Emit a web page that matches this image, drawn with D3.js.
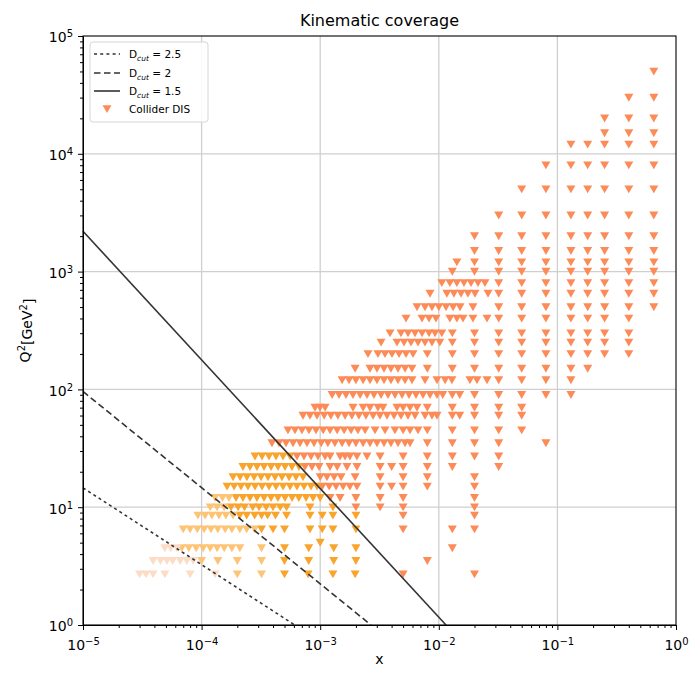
<!DOCTYPE html>
<html><head><meta charset="utf-8">
<script src="https://cdn.jsdelivr.net/npm/d3@7"></script>
<style>
body{margin:0;background:#fff}
svg{display:block}
text{font-family:"DejaVu Sans",sans-serif;fill:#000}
</style>
</head><body>
<svg id="chart" width="690" height="676"></svg>
<script>
// ---- measured bins: [Q², [x values]] grouped by marker colour ----
const paleRows = [
  [2.7, [3.0e-5, 3.4e-5, 3.9e-5, 4.9e-5, 8.0e-5, 1.3e-4]],
  [3.5, [3.9e-5, 4.5e-5, 5.1e-5, 5.7e-5, 6.6e-5, 7.5e-5, 8.5e-5]],
  [4.5, [4.9e-5, 5.5e-5, 6.2e-5]]
];
const lightRows = [
  [2.7, [2.0e-4, 3.2e-4]],
  [3.5, [1.0e-4, 1.37e-4, 2.0e-4, 3.2e-4]],
  [4.5, [6.8e-5, 7.8e-5, 9.0e-5, 1.03e-4, 1.18e-4, 1.35e-4, 1.55e-4, 1.8e-4, 2.1e-4, 3.2e-4]],
  [6.5, [7.0e-5, 8.0e-5, 9.2e-5, 1.05e-4, 1.2e-4, 1.37e-4, 1.58e-4, 1.8e-4, 2.1e-4, 2.4e-4, 2.8e-4]],
  [8.5, [9.3e-5, 1.07e-4, 1.22e-4, 1.4e-4, 1.6e-4, 1.84e-4]],
  [10, [1.18e-4, 1.35e-4, 1.55e-4]],
  [12, [1.3e-4, 1.5e-4, 1.7e-4]]
];
const orangeRows = [
  [2.7, [5.0e-4, 7.9e-4, 1.28e-3, 1.97e-3]],
  [3.5, [5.0e-4, 8.0e-4, 1.3e-3, 2.0e-3]],
  [4.5, [5.0e-4, 8.0e-4, 1.3e-3, 2.0e-3]],
  [5.0, [1.0e-3]],
  [6.5, [3.2e-4, 4.0e-4, 5.0e-4, 8.2e-4, 1.04e-3, 1.28e-3, 2.0e-3]],
  [8.5, [2.1e-4, 2.4e-4, 2.8e-4, 3.2e-4, 3.6e-4, 4.2e-4, 5.2e-4, 8.2e-4, 1.04e-3, 1.28e-3, 2.0e-3]],
  [10, [1.77e-4, 2.03e-4, 2.3e-4, 2.7e-4, 3.05e-4, 3.5e-4, 4.0e-4, 4.6e-4, 5.2e-4, 8.2e-4, 1.28e-3]],
  [12, [1.95e-4, 2.23e-4, 2.56e-4, 2.93e-4, 3.36e-4, 3.85e-4, 4.4e-4, 5.05e-4, 5.8e-4, 6.6e-4, 7.6e-4, 8.7e-4, 1.0e-3]],
  [15, [1.64e-4, 1.88e-4, 2.15e-4, 2.46e-4, 2.82e-4, 3.23e-4, 3.7e-4, 4.24e-4, 4.86e-4, 5.57e-4, 6.37e-4, 7.3e-4, 8.37e-4, 9.4e-4]],
  [18, [1.84e-4, 2.11e-4, 2.41e-4, 2.77e-4, 3.17e-4, 3.63e-4, 4.16e-4, 4.76e-4, 5.46e-4, 6.25e-4, 7.16e-4]],
  [22, [2.23e-4, 2.56e-4, 2.93e-4, 3.36e-4, 3.85e-4, 4.41e-4, 5.05e-4, 5.78e-4, 6.62e-4]],
  [27, [2.82e-4, 3.23e-4, 3.7e-4, 4.24e-4, 4.86e-4, 5.57e-4]]
];
const coralRows = [
  [2.7, [5.0e-3, 2.0e-2]],
  [3.5, [8.0e-3]],
  [4.5, [1.3e-2]],
  [6.5, [5.0e-3, 1.3e-2, 2.0e-2]],
  [8.5, [5.0e-3, 2.0e-2]],
  [10, [2.0e-3, 3.2e-3, 5.0e-3, 2.0e-2]],
  [12, [1.21e-3, 1.47e-3, 2.0e-3, 3.2e-3, 5.0e-3, 2.0e-2]],
  [15, [1.04e-3, 1.19e-3, 1.36e-3, 1.56e-3, 1.78e-3, 2.04e-3, 3.2e-3, 4.0e-3, 5.0e-3, 8.0e-3, 2.0e-2]],
  [18, [1.0e-3, 1.14e-3, 1.31e-3, 1.5e-3, 1.97e-3, 3.2e-3, 5.0e-3, 8.0e-3, 2.0e-2]],
  [22, [7.44e-4, 8.53e-4, 9.77e-4, 1.21e-3, 1.39e-3, 1.68e-3, 2.04e-3, 3.2e-3, 4.0e-3, 5.0e-3, 8.0e-3, 1.3e-2, 3.2e-2]],
  [27, [6.37e-4, 7.3e-4, 8.37e-4, 9.58e-4, 1.1e-3, 1.21e-3, 1.47e-3, 1.62e-3, 1.78e-3, 2.04e-3, 2.48e-3, 3.2e-3, 5.0e-3, 8.0e-3, 1.3e-2, 2.0e-2, 3.2e-2]],
  [35, [3.92e-4, 4.49e-4, 5.15e-4, 5.9e-4, 6.76e-4, 7.74e-4, 8.87e-4, 1.02e-3, 1.16e-3, 1.33e-3, 1.53e-3, 1.75e-3, 2.0e-3, 2.3e-3, 2.63e-3, 3.01e-3, 3.45e-3, 3.95e-3, 4.53e-3, 5.19e-3, 5.72e-3, 8.0e-3, 1.3e-2, 2.0e-2, 3.2e-2, 8.0e-2]],
  [45, [5.35e-4, 6.13e-4, 7.02e-4, 8.04e-4, 9.22e-4, 1.06e-3, 1.21e-3, 1.39e-3, 1.59e-3, 1.82e-3, 2.08e-3, 2.39e-3, 2.9e-3, 3.52e-3, 4.27e-3, 5.0e-3, 5.72e-3, 6.68e-3, 8.0e-3, 1.3e-2, 2.0e-2, 3.2e-2, 5.0e-2]],
  [60, [7.16e-4, 8.2e-4, 9.4e-4, 1.08e-3, 1.23e-3, 1.41e-3, 1.62e-3, 1.85e-3, 2.12e-3, 2.43e-3, 2.79e-3, 3.19e-3, 3.66e-3, 4.19e-3, 4.8e-3, 5.5e-3, 6.3e-3, 7.65e-3, 8.76e-3, 9.66e-3, 1.3e-2, 1.5e-2, 2.0e-2, 3.2e-2, 5.0e-2]],
  [70, [9.04e-4, 9.96e-4, 1.1e-3, 1.89e-3, 2.3e-3, 2.63e-3, 3.07e-3, 3.38e-3, 4.44e-3, 5.0e-3, 5.72e-3, 6.55e-3, 8.0e-3, 1.3e-2, 2.0e-2, 3.2e-2, 5.0e-2]],
  [90, [1.26e-3, 1.44e-3, 1.65e-3, 1.89e-3, 2.17e-3, 2.48e-3, 2.84e-3, 3.26e-3, 3.73e-3, 4.27e-3, 4.9e-3, 5.61e-3, 6.42e-3, 7.36e-3, 8.43e-3, 9.66e-3, 1.08e-2, 1.3e-2, 1.5e-2, 2.0e-2, 3.2e-2, 5.0e-2, 8.0e-2, 0.13]],
  [120, [1.53e-3, 1.75e-3, 2.0e-3, 2.3e-3, 2.63e-3, 3.01e-3, 3.45e-3, 3.95e-3, 4.53e-3, 5.19e-3, 5.94e-3, 7.65e-3, 9.66e-3, 1.13e-2, 1.29e-2, 1.83e-2, 2.1e-2, 2.55e-2, 3.2e-2, 5.0e-2, 8.0e-2, 0.13]],
  [150, [1.97e-3, 2.63e-3, 3.01e-3, 3.45e-3, 3.95e-3, 4.53e-3, 5.19e-3, 5.94e-3, 8.0e-3, 1.3e-2, 2.0e-2, 3.2e-2, 5.0e-2, 8.0e-2, 0.13, 0.18]],
  [200, [2.53e-3, 3.07e-3, 3.52e-3, 4.03e-3, 4.62e-3, 5.29e-3, 6.06e-3, 8.0e-3, 1.3e-2, 2.0e-2, 3.2e-2, 5.0e-2, 8.0e-2, 0.13, 0.18, 0.25, 0.4]],
  [250, [3.26e-3, 4.44e-3, 5.09e-3, 5.83e-3, 6.68e-3, 7.65e-3, 8.76e-3, 1.02e-2, 1.3e-2, 2.0e-2, 3.2e-2, 5.0e-2, 8.0e-2, 0.13, 0.18, 0.25, 0.4]],
  [300, [3.88e-3, 4.8e-3, 5.5e-3, 6.3e-3, 7.22e-3, 8.27e-3, 9.29e-3, 1.06e-2, 1.3e-2, 2.0e-2, 3.2e-2, 5.0e-2, 8.0e-2, 0.13, 0.18, 0.25, 0.4]],
  [400, [5.29e-3, 7.22e-3, 8.27e-3, 9.47e-3, 1.24e-2, 1.42e-2, 1.6e-2, 1.94e-2, 2.55e-2, 3.2e-2, 5.0e-2, 8.0e-2, 0.13, 0.18, 0.25, 0.4]],
  [500, [6.55e-3, 7.65e-3, 8.76e-3, 1.0e-2, 1.15e-2, 1.32e-2, 1.51e-2, 1.94e-2, 3.2e-2, 5.0e-2, 8.0e-2, 0.13, 0.18, 0.25, 0.4, 0.65]],
  [650, [8.43e-3, 1.17e-2, 1.34e-2, 1.54e-2, 1.76e-2, 2.02e-2, 2.6e-2, 3.2e-2, 5.0e-2, 8.0e-2, 0.13, 0.18, 0.25, 0.4, 0.65]],
  [800, [1.06e-2, 1.24e-2, 1.42e-2, 1.63e-2, 1.87e-2, 2.14e-2, 2.45e-2, 3.2e-2, 5.0e-2, 8.0e-2, 0.13, 0.18, 0.25, 0.4, 0.65]],
  [1000, [1.3e-2, 2.0e-2, 3.2e-2, 5.0e-2, 8.0e-2, 0.13, 0.18, 0.25, 0.4, 0.65]],
  [1200, [1.42e-2, 2.0e-2, 3.2e-2, 5.0e-2, 8.0e-2, 0.13, 0.18, 0.25, 0.4, 0.65]],
  [1500, [2.0e-2, 3.2e-2, 5.0e-2, 8.0e-2, 0.13, 0.18, 0.25, 0.4, 0.65]],
  [2000, [2.0e-2, 3.2e-2, 5.0e-2, 8.0e-2, 0.13, 0.18, 0.25, 0.4, 0.65]],
  [3000, [3.2e-2, 5.0e-2, 8.0e-2, 0.13, 0.18, 0.25, 0.4, 0.65]],
  [5000, [5.0e-2, 8.0e-2, 0.13, 0.18, 0.25, 0.4, 0.65]],
  [8000, [8.0e-2, 0.13, 0.18, 0.25, 0.4, 0.65]],
  [12000, [0.13, 0.18, 0.25, 0.4, 0.65]],
  [15000, [0.25, 0.4, 0.65]],
  [20000, [0.25, 0.4, 0.65]],
  [30000, [0.4, 0.65]],
  [50000, [0.65]]
];

// ---- D_cut boundaries: straight lines in log-log, from x = 1e-5 down to Q² = 1 ----
const cutLabels = ["2.5", "2", "1.5"];
const cutStartX = [1e-5, 1e-5, 1e-5];
const cutStartQ2 = [14.6, 96, 2200];
const cutEndX = [6.1e-4, 2.68e-3, 1.15e-2];
const cutEndQ2 = [1, 1, 1];

// ---- axis ticks ----
const xMajor = [1e-5, 1e-4, 1e-3, 1e-2, 1e-1, 1];
const yMajor = [1, 10, 100, 1000, 1e4, 1e5];
const xExp = ["−5", "−4", "−3", "−2", "−1", "0"];
const yExp = ["0", "1", "2", "3", "4", "5"];

// ---- styling ----
const groupColor = {pale: "#fddcc6", light: "#fdc475", orange: "#f9a42c", coral: "#fc8b57"};
const cutDash = ["3,3.2", "6.5,3.5", null];

const svg = d3.select("#chart");
const W = 690, H = 676;
const mL = 83, mR = 676, mT = 36, mB = 625;

const x = d3.scaleLog().domain([1e-5, 1]).range([mL, mR]);
const y = d3.scaleLog().domain([1, 1e5]).range([mB, mT]);

svg.append("rect").attr("width", W).attr("height", H).attr("fill", "#fff");

// minor tick values (2..9 per decade)
const minorOf = (majors) => {
  const out = [];
  for (let i = 0; i < majors.length - 1; i++)
    for (let k = 2; k <= 9; k++) out.push(majors[i] * k);
  return out;
};

// grid
const grid = svg.append("g").attr("stroke", "#cfcfcf").attr("stroke-width", 1.3);
grid.selectAll(".gx").data(xMajor.slice(1, -1)).join("line")
  .attr("x1", d => x(d)).attr("x2", d => x(d)).attr("y1", mT).attr("y2", mB);
grid.selectAll(".gy").data(yMajor.slice(1, -1)).join("line")
  .attr("y1", d => y(d)).attr("y2", d => y(d)).attr("x1", mL).attr("x2", mR);

// data points
const points = [];
const addRows = (rows, g) => rows.forEach(([q2, xs]) => xs.forEach(v => points.push({x: v, q2, g})));
addRows(coralRows, "coral");
addRows(orangeRows, "orange");
addRows(lightRows, "light");
addRows(paleRows, "pale");

const tri = "M-4.5,-3.8L4.5,-3.8L0,4.1Z";
const plot = svg.append("g");
plot.selectAll("path.pt").data(points).join("path")
  .attr("class", "pt")
  .attr("d", tri)
  .attr("transform", d => `translate(${x(d.x)},${y(d.q2)})`)
  .attr("fill", d => groupColor[d.g]);

// D_cut lines
const lineGen = d3.line().x(d => x(d[0])).y(d => y(d[1]));
cutLabels.forEach((lab, i) => {
  svg.append("path")
    .attr("d", lineGen([[cutStartX[i], cutStartQ2[i]], [cutEndX[i], cutEndQ2[i]]]))
    .attr("fill", "none").attr("stroke", "#333").attr("stroke-width", 1.6)
    .attr("stroke-dasharray", cutDash[i]);
});

// axes
const sup = (sel, exps) => {
  sel.selectAll(".tick text").each(function (d, i) {
    const t = d3.select(this);
    t.text(null);
    t.append("tspan").text("10");
    t.append("tspan").attr("dy", "-0.5em").attr("font-size", "10px").text(exps[i]);
  });
};

const xAxis = svg.append("g").attr("transform", `translate(0,${mB})`)
  .call(d3.axisBottom(x).tickValues(xMajor).tickSize(5).tickPadding(5).tickFormat(() => ""));
xAxis.selectAll(".tick text").attr("font-size", "14px").attr("font-family", "DejaVu Sans").attr("dy", "1.05em");
sup(xAxis, xExp);
svg.append("g").attr("transform", `translate(0,${mB})`)
  .call(d3.axisBottom(x).tickValues(minorOf(xMajor)).tickSize(3).tickFormat(() => ""))
  .select(".domain").remove();

const yAxis = svg.append("g").attr("transform", `translate(${mL},0)`)
  .call(d3.axisLeft(y).tickValues(yMajor).tickSize(5).tickPadding(5).tickFormat(() => ""));
yAxis.selectAll(".tick text").attr("font-size", "14px").attr("font-family", "DejaVu Sans").attr("dy", "0.42em");
sup(yAxis, yExp);
svg.append("g").attr("transform", `translate(${mL},0)`)
  .call(d3.axisLeft(y).tickValues(minorOf(yMajor)).tickSize(3).tickFormat(() => ""))
  .select(".domain").remove();

svg.selectAll(".tick line").attr("stroke", "#000").attr("stroke-width", 1);
svg.selectAll(".domain").attr("stroke", "#000");

// frame
svg.append("rect").attr("x", mL).attr("y", mT).attr("width", mR - mL).attr("height", mB - mT)
  .attr("fill", "none").attr("stroke", "#000").attr("stroke-width", 1.1);

// titles
svg.append("text").attr("x", (mL + mR) / 2).attr("y", 26).attr("text-anchor", "middle")
  .attr("font-size", "16px").text("Kinematic coverage");
svg.append("text").attr("x", (mL + mR) / 2).attr("y", 664).attr("text-anchor", "middle")
  .attr("font-size", "14px").text("x");
const yl = svg.append("text").attr("transform", `translate(30,${(mT + mB) / 2}) rotate(-90)`)
  .attr("text-anchor", "middle").attr("font-size", "14px");
yl.append("tspan").text("Q");
yl.append("tspan").attr("dy", "-0.5em").attr("font-size", "10px").text("2");
yl.append("tspan").attr("dy", "0.5em").text("[GeV");
yl.append("tspan").attr("dy", "-0.5em").attr("font-size", "10px").text("2");
yl.append("tspan").attr("dy", "0.5em").text("]");

// legend
const lg = svg.append("g");
lg.append("rect").attr("x", 90).attr("y", 42).attr("width", 118).attr("height", 80).attr("rx", 3)
  .attr("fill", "#fff").attr("fill-opacity", 0.85).attr("stroke", "#d6d6d6").attr("stroke-width", 1);
const rowY = [54, 73, 91, 109];
cutLabels.forEach((lab, i) => {
  lg.append("line").attr("x1", 94).attr("x2", 120).attr("y1", rowY[i]).attr("y2", rowY[i])
    .attr("stroke", "#333").attr("stroke-width", 1.6).attr("stroke-dasharray", cutDash[i]);
  const t = lg.append("text").attr("x", 129).attr("y", rowY[i] + 4).attr("font-size", "10.5px");
  t.append("tspan").text("D");
  t.append("tspan").attr("dy", "2.5").attr("font-size", "7.5px").attr("font-style", "italic").text("cut");
  t.append("tspan").attr("dy", "-2.5").text(" = " + lab);
});
lg.append("path").attr("d", tri).attr("transform", `translate(107,${rowY[3]})`).attr("fill", groupColor.coral);
lg.append("text").attr("x", 129).attr("y", rowY[3] + 4).attr("font-size", "10.5px").text("Collider DIS");
</script>
</body></html>
